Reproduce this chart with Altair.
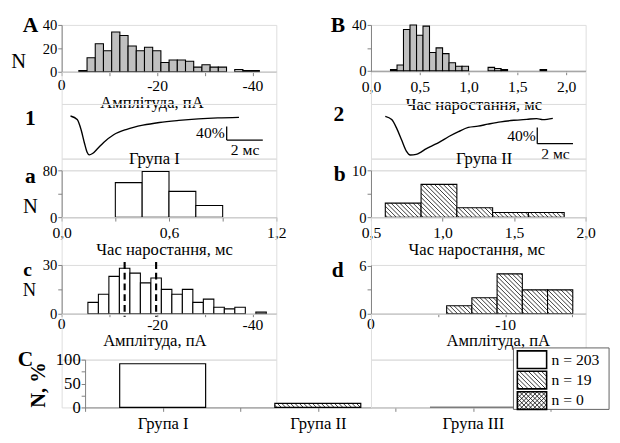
import numpy as np
import pandas as pd
import altair as alt

SERIF = "Liberation Serif, Times New Roman, serif"

# ---------------- data ----------------
# A: amplitude histogram, all events (pA, bin left edges)
A_bin_left = [-3.60, -5.32, -7.04, -8.76, -10.48, -12.20, -13.92, -15.64, -17.36, -19.08,
              -20.80, -22.52, -24.24, -25.96, -27.68, -29.40, -31.12, -32.84, -36.28, -38.00, -39.72]
A_counts = [1, 12, 24, 18, 34, 31, 22, 18, 21, 18, 8, 10, 10, 9, 4, 6, 4, 4, 2, 1, 1]
A_bin_width = 1.72

# B: rise time histogram, all events (ms)
B_bin_left = [0.200, 0.267, 0.333, 0.400, 0.467, 0.533, 0.600, 0.667, 0.733, 0.800,
              0.867, 0.933, 1.200, 1.267, 1.333, 1.733]
B_counts = [1, 5, 36, 40, 31, 39, 16, 20, 15, 7, 4, 4, 3, 2, 1, 1]
B_bin_width = 0.0667

# a: rise time, group I
a_bin_left = [0.30, 0.45, 0.60, 0.75]
a_counts = [59, 78, 44, 20]
a_bin_width = 0.15

# b: rise time, group II
b_bin_left = [0.60, 0.85, 1.10, 1.35, 1.60]
b_counts = [3, 7, 2, 1, 1]
b_bin_width = 0.25

# c: amplitude, group I
c_bin_left = [-5.5, -7.7, -9.9, -12.1, -14.3, -16.5, -18.7, -20.9, -23.1, -25.3,
              -27.5, -29.7, -31.9, -34.1, -36.3, -40.7]
c_counts = [7, 12, 23, 28, 25, 19, 22, 15, 12, 15, 7, 9, 4, 3, 4, 1]
c_bin_width = 2.2
c_markers = [-13.2, -19.8]

# d: amplitude, group II
d_bin_left = [-5.64, -7.52, -9.40, -11.28, -13.16]
d_counts = [1, 2, 5, 3, 3]
d_bin_width = 1.88

# averaged traces (time ms, amplitude %)
trace1_t = [0.49, 0.86, 1.08, 1.26, 1.41, 1.53, 1.71, 1.98, 2.34, 2.88, 3.61, 4.50, 5.41,
            6.49, 7.57, 8.65, 9.82]
trace1_v = [0, -10.6, -41, -79, -106, -114, -110, -96, -77, -55, -39, -27, -19, -13, -8.6,
            -5.7, -4]
trace2_t = [0.80, 1.16, 1.44, 1.71, 1.98, 2.20, 2.53, 2.80, 3.08, 3.44, 3.81, 4.36, 4.90,
            5.45, 5.99, 6.54, 7.27, 8.00, 8.73, 9.28, 9.62, 10.18]
trace2_v = [0, -7.9, -29.5, -57.6, -85.4, -95, -93.5, -87.8, -79.9, -71.9, -63.8, -49.4,
            -37.4, -27.1, -24, -19.2, -13.4, -9.6, -7.2, -5.5, -7.9, -4.8]
scalebar_ms = 2
scalebar_pct = 40

# C: group fractions
groups = ["Група I", "Група II", "Група III"]
group_pct = [91.4, 8.6, 0.0]
group_n = [203, 19, 0]
group_hatch = [None, "back", "cross"]

# ---------------- helpers ----------------
GRAY = "#c0c0c0"
AXC = "#808080"
ONE = pd.DataFrame({"k": [0]})
XLBL = 16
YLBL = 15
TTL = 17


def hatch_px(W, H, d, kind):
    segs = []
    if W <= 0 or H <= 0:
        return segs
    c = -H + d / 2
    while c < W:
        u1 = max(0.0, c)
        u2 = min(W, H + c)
        if u2 > u1:
            segs.append((u1, u1 - c, u2, u2 - c))
        c += d
    if kind == "cross":
        c = d / 2
        while c < W + H:
            u1 = max(0.0, c - H)
            u2 = min(W, c)
            if u2 > u1:
                segs.append((u1, c - u1, u2, c - u2))
            c += d
    return segs


def axis(**kw):
    d = dict(domainColor=AXC, tickColor=AXC, tickSize=4, domainWidth=1, tickWidth=1,
             labelFont=SERIF, labelFontSize=XLBL, labelColor="black", labelPadding=1,
             titleFont=SERIF, titleFontSize=TTL, titleFontWeight="normal", titleColor="black",
             grid=False, labelFlush=False, labelOverlap=False)
    d.update(kw)
    return alt.Axis(**d)


def xaxis(values, expr, title, tx, ty, **kw):
    return axis(values=values, labelExpr=expr, title=title, titleX=tx, titleY=ty,
                titleAlign="center", titleBaseline="middle", **kw)


def yaxis(values, shown):
    expr = "indexof(%s, datum.value) >= 0 ? datum.label : ''" % str(shown)
    return axis(values=values, labelExpr=expr, title=None, labelFontSize=YLBL)


def neg_expr(shown):
    parts = ["abs(datum.value - (%s)) < 1e-6 ? '%s'" % (v, "0" if v == 0 else "-%d" % abs(v))
             for v in shown]
    return " : ".join(parts) + " : ''"


DEC = "indexof(%s, datum.value) >= 0 ? replace(format(datum.value, '.1f'), '.', ',') : ''"


def text(t, x, y, size=22, bold=True, angle=0, align="center"):
    kw = dict(text=t, font=SERIF, fontSize=size, fontWeight="bold" if bold else "normal",
              align=align, baseline="middle", color="black")
    if angle:
        kw["angle"] = angle
    return alt.Chart(ONE).mark_text(**kw).encode(x=alt.value(x), y=alt.value(y))


def lin_scale(dom):
    if dom[0] > dom[1]:
        return alt.Scale(domain=[dom[1], dom[0]], reverse=True, nice=False, zero=False)
    return alt.Scale(domain=list(dom), nice=False, zero=False)


def hist_panel(left, counts, bw, xdom, ydom, w, h, xax, yax, fill=GRAY, hatch=None,
               markers=None, zero_label_y=None, extras=()):
    sign = 1.0 if xdom[1] > xdom[0] else -1.0
    df = pd.DataFrame({"x": left, "x2": [v + sign * bw for v in left], "y": counts})
    xs = lin_scale(xdom)
    ys = lin_scale(ydom)
    X = lambda: alt.X("x:Q", scale=xs, axis=xax)
    Y = lambda: alt.Y("y:Q", scale=ys, axis=yax)
    bars = alt.Chart(df).mark_rect(fill=fill, stroke="black", strokeWidth=1.1).encode(
        x=X(), x2=alt.X2("x2"), y=Y(), y2=alt.datum(0))
    layers = [bars]
    if hatch:
        kx = w / abs(xdom[1] - xdom[0])
        ky = h / (ydom[1] - ydom[0])
        rows = []
        for l, c in zip(left, counts):
            for u1, v1, u2, v2 in hatch_px(bw * kx, c * ky, 4.5, hatch):
                rows.append({"x": l + sign * u1 / kx, "x2": l + sign * u2 / kx,
                             "y": c - v1 / ky, "y2": c - v2 / ky})
        layers.append(alt.Chart(pd.DataFrame(rows)).mark_rule(color="black", strokeWidth=0.8).encode(
            x=X(), x2="x2", y=Y(), y2="y2"))
    if markers:
        top = ydom[1] * 1.06
        bot = -ydom[1] * 0.06
        mdf = pd.DataFrame({"x": markers, "y": [top] * len(markers), "y2": [bot] * len(markers)})
        layers.append(alt.Chart(mdf).mark_rule(color="black", strokeWidth=2.2,
                                               strokeDash=[7, 4]).encode(
            x=X(), y=Y(), y2="y2"))
    if zero_label_y is not None:
        zdf = pd.DataFrame({"x": [0.0], "s": ["0"]})
        layers.append(alt.Chart(zdf).mark_text(font=SERIF, fontSize=XLBL, align="center",
                                               baseline="top", color="black").encode(
            x=X(), y=alt.value(zero_label_y), text="s:N"))
    layers += list(extras)
    return alt.layer(*layers).properties(width=w, height=h)


def trace_panel(t, v, xdom, ydom, w, h, bar_t, bar_v, lab40, lab2, extras=()):
    xs = lin_scale(xdom)
    ys = lin_scale(ydom)
    X = lambda f: alt.X(f, scale=xs, axis=None)
    Y = lambda f: alt.Y(f, scale=ys, axis=None)
    line = alt.Chart(pd.DataFrame({"x": t, "y": v})).mark_line(
        color="black", strokeWidth=1.4, interpolate="monotone").encode(x=X("x:Q"), y=Y("y:Q"))
    bar = pd.DataFrame({"x": [bar_t, bar_t], "x2": [bar_t, bar_t + scalebar_ms],
                        "y": [bar_v, bar_v], "y2": [bar_v + scalebar_pct, bar_v]})
    sb = alt.Chart(bar).mark_rule(color="black", strokeWidth=1.3).encode(
        x=X("x:Q"), x2="x2", y=Y("y:Q"), y2="y2")
    labs = pd.DataFrame({"x": [lab40[0]], "y": [lab40[1]], "s": ["%d%%" % scalebar_pct]})
    l1 = alt.Chart(labs).mark_text(font=SERIF, fontSize=16, align="right", baseline="middle",
                                   color="black").encode(x=X("x:Q"), y=Y("y:Q"), text="s:N")
    labs2 = pd.DataFrame({"x": [lab2[0]], "y": [lab2[1]], "s": ["%d мс" % scalebar_ms]})
    l2 = alt.Chart(labs2).mark_text(font=SERIF, fontSize=16, align="center", baseline="middle",
                                    color="black").encode(x=X("x:Q"), y=Y("y:Q"), text="s:N")
    return alt.layer(line, sb, l1, l2, *extras).properties(width=w, height=h)


W = 220

# ---------------- panels ----------------
pA = hist_panel(A_bin_left, A_counts, A_bin_width, (0, -45), (0, 40), W, 48,
                xaxis([-40, -30, -20, -10, 0], neg_expr([-20, -40]), "Амплітуда, пА", 92, 31.5,
                      labelPadding=2),
                yaxis([0, 20, 40], [0, 20, 40]), zero_label_y=48 + 6,
                extras=[text("A", -32, 0), text("N", -44, 38, size=21, bold=False)])

pB = hist_panel(B_bin_left, B_counts, B_bin_width, (0, 2.2), (0, 40), W, 47,
                xaxis([0, 0.5, 1, 1.5, 2], DEC % "[0, 0.5, 1, 1.5, 2]", "Час наростання, мс", 105, 34.5,
                      labelPadding=4),
                yaxis([0, 20, 40], [0, 40]),
                extras=[text("B", -34, 0)])

t1 = trace_panel(trace1_t, trace1_v, (0, 11.89), (-124.9, 35.1), W, 56, 9.14, -70.6,
                 (9.03, -50.6), (10.16, -99), extras=[text("1", -32, 15)])
t2 = trace_panel(trace2_t, trace2_v, (0, 12.02), (-103.8, 30.5), W, 56, 9.31, -67.1,
                 (9.23, -48.7), (10.33, -92), extras=[text("2", -33, 10)])

pa = hist_panel(a_bin_left, a_counts, a_bin_width, (0, 1.2), (0, 80), W, 48,
                xaxis([0, 0.3, 0.6, 0.9, 1.2], DEC % "[0, 0.6, 1.2]", "Час наростання, мс", 105, 33,
                      labelPadding=4),
                yaxis([0, 40, 80], [0, 80]), fill="white",
                extras=[text("a", -32, 6), text("N", -32, 38, size=21, bold=False),
                        text(groups[0], 95, -11, size=17, bold=False)])

pb = hist_panel(b_bin_left, b_counts, b_bin_width, (0.5, 2.0), (0, 10), W, 48,
                xaxis([0.5, 1, 1.5, 2], DEC % "[0.5, 1, 1.5, 2]", "Час наростання, мс", 108, 33,
                      labelPadding=4),
                yaxis([0, 5, 10], [0, 10]), fill="white", hatch="back",
                extras=[text("b", -32, 4), text(groups[1], 116, -11, size=17, bold=False)])

pc = hist_panel(c_bin_left, c_counts, c_bin_width, (0, -45), (0, 30), W, 50,
                xaxis([-40, -30, -20, -10, 0], neg_expr([-20, -40]), "Амплітуда, пА", 95, 28,
                      tickSize=3, labelPadding=0),
                yaxis([0, 15, 30], [0, 30]), fill="white", markers=c_markers,
                zero_label_y=50 + 3,
                extras=[text("c", -35, 5, size=20), text("N", -33, 26, size=19, bold=False)])

pd_ = hist_panel(d_bin_left, d_counts, d_bin_width, (0, -16), (0, 6.12), W, 50,
                 xaxis([-15, -10, -5, 0], neg_expr([-10]), "Амплітуда, пА", 130, 28,
                       tickSize=3, labelPadding=0),
                 yaxis([0, 3, 6], [0, 6]), fill="white", hatch="back",
                 zero_label_y=50 + 3,
                 extras=[text("d", -34, 5)])

# ---- C: group fractions ----
C_H = 49
C_X0 = 24
C_STEP = 159
C_HALF = 0.277
cxs = alt.Scale(domain=[-0.5, 2.5], range=[C_X0, C_X0 + 3 * C_STEP], nice=False, zero=False)
cys = alt.Scale(domain=[0, 100], nice=False)
gexpr = " : ".join("datum.value == %d ? '%s'" % (i, g) for i, g in enumerate(groups)) + " : ''"
cxa = axis(values=[-0.5, 0, 0.5, 1, 1.5, 2, 2.5], labelExpr=gexpr, title=None,
           labelFontSize=17, labelPadding=5)
cya = axis(values=[0, 25, 50, 75, 100], labelExpr="datum.value % 50 == 0 ? datum.label : ''",
           title=None, offset=-C_X0, labelFontSize=17)
cdf = pd.DataFrame({"g": list(range(len(groups))), "y": group_pct})
cdf["x"] = cdf["g"] - C_HALF
cdf["x2"] = cdf["g"] + C_HALF
cbars = alt.Chart(cdf).mark_rect(fill="white", stroke="black", strokeWidth=1.2).encode(
    x=alt.X("x:Q", scale=cxs, axis=cxa), x2="x2",
    y=alt.Y("y:Q", scale=cys, axis=cya), y2=alt.datum(0))
kx = C_STEP
ky = C_H / 100
crow = []
for i, (p, hk) in enumerate(zip(group_pct, group_hatch)):
    if hk is None:
        continue
    for u1, v1, u2, v2 in hatch_px(2 * C_HALF * kx, p * ky, 4.5, hk):
        crow.append({"x": i - C_HALF + u1 / kx, "x2": i - C_HALF + u2 / kx,
                     "y": p - v1 / ky, "y2": p - v2 / ky})
chatch = alt.Chart(pd.DataFrame(crow)).mark_rule(color="black", strokeWidth=0.8).encode(
    x=alt.X("x:Q", scale=cxs, axis=cxa), x2="x2", y=alt.Y("y:Q", scale=cys, axis=cya), y2="y2")
pC = alt.layer(cbars, chatch, text("C", -37, 0),
               text("N, %", -23, 26, size=21, angle=270)).properties(width=W, height=C_H)

# ---- legend for C (pixel layout inside its cell) ----
LX0, LX1, LY0, LY1 = 146, 244, -12, 51
SW_X0, SW_X1, SW_H, SW_GAP = 150, 180, 18, 2
leg_rows = []
hatch_rows = []
for i, (n, hk) in enumerate(zip(group_n, group_hatch)):
    top = LY0 + 3 + i * (SW_H + SW_GAP + 1)
    leg_rows.append({"x": SW_X0, "x2": SW_X1, "y": top, "y2": top + SW_H,
                     "tx": SW_X1 + 5, "ty": top + SW_H / 2, "s": "n = %d" % n})
    if hk:
        for u1, v1, u2, v2 in hatch_px(SW_X1 - SW_X0, SW_H, 4.5, hk):
            hatch_rows.append({"x": SW_X0 + u1, "x2": SW_X0 + u2, "y": top + v1, "y2": top + v2})
ldf = pd.DataFrame(leg_rows)
lbox = alt.Chart(ONE).mark_rect(fill="white", stroke="#606060", strokeWidth=1).encode(
    x=alt.value(LX0), x2=alt.value(LX1), y=alt.value(LY0), y2=alt.value(LY1))
lsw = alt.Chart(ldf).mark_rect(fill="white", stroke="black", strokeWidth=1.6).encode(
    x=alt.X("x:Q", scale=None, axis=None), x2="x2", y=alt.Y("y:Q", scale=None, axis=None), y2="y2")
lh = alt.Chart(pd.DataFrame(hatch_rows)).mark_rule(color="black", strokeWidth=0.8).encode(
    x=alt.X("x:Q", scale=None, axis=None), x2="x2", y=alt.Y("y:Q", scale=None, axis=None), y2="y2")
ltx = alt.Chart(ldf).mark_text(font=SERIF, fontSize=16, align="left", baseline="middle",
                               color="black").encode(
    x=alt.X("tx:Q", scale=None, axis=None), y=alt.Y("ty:Q", scale=None, axis=None), text="s:N")
pL = alt.layer(lbox, lsw, lh, ltx).properties(width=W, height=C_H)


def spacer(h):
    return alt.Chart(ONE).mark_point(opacity=0).encode(
        x=alt.value(0), y=alt.value(0)).properties(width=W, height=h)


grid = alt.concat(
    pA, pB,
    spacer(33), spacer(33),
    t1, t2,
    spacer(12), spacer(12),
    pa, pb,
    spacer(49), spacer(49),
    pc, pd_,
    spacer(47), spacer(47),
    pC, pL,
    columns=2, spacing={"row": 0, "column": 97}, bounds="flush",
)

chart = grid.properties(
    padding={"left": 2, "top": 0, "right": 2, "bottom": 2},
    background="white",
).configure_view(strokeWidth=0).configure(font=SERIF).configure_axis(
    grid=False, labelFont=SERIF, titleFont=SERIF)

chart.save("out.html", embed_options={"renderer": "svg", "actions": False})
